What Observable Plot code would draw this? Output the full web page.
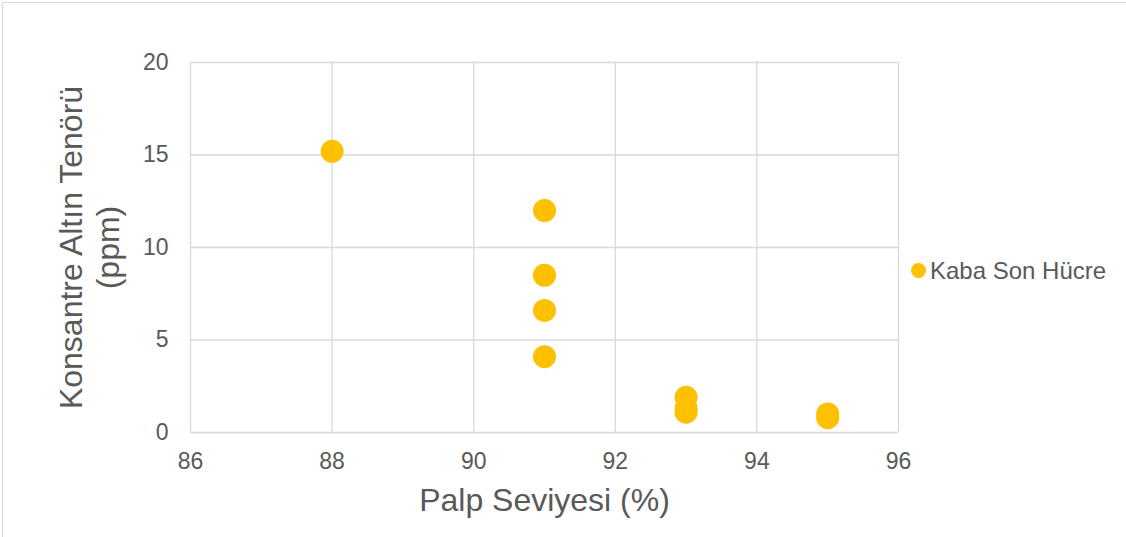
<!DOCTYPE html>
<html>
<head>
<meta charset="utf-8">
<script src="https://cdn.jsdelivr.net/npm/d3@7"></script>
<script src="https://cdn.jsdelivr.net/npm/@observablehq/plot@0.6"></script>
<style>
  html, body { margin: 0; padding: 0; background: #fff; }
  #wrap { position: relative; width: 1126px; height: 537px; font-family: "Liberation Sans", Arial, sans-serif; overflow: hidden; }
  #frame { position: absolute; left: 2px; top: 2px; width: 1130px; height: 540px; border-left: 1px solid #d9d9d9; border-top: 1px solid #d9d9d9; box-sizing: border-box; pointer-events: none; }
  #legend { position: absolute; left: 911px; top: 257px; height: 27px; display: flex; align-items: center; font-size: 24px; line-height: 27px; color: #595959; }
  #legend .sw { width: 15px; height: 15px; border-radius: 50%; background: #FFC000; margin-right: 4px; }
  svg { display: block; }
</style>
</head>
<body>
<div id="wrap">
  <div id="chart"></div>
  <div id="frame"></div>
  <div id="legend"><span class="sw"></span><span id="legendText"></span></div>
</div>
<script>
const seriesName = "Kaba Son Hücre";
const palpLevels = [88, 91, 91, 91, 91, 93, 93, 93, 95, 95];
const goldGrades = [15.2, 12.0, 8.5, 6.6, 4.1, 1.9, 1.3, 1.1, 1.0, 0.8];
const xTicks = [86, 88, 90, 92, 94, 96];
const yTicks = [0, 5, 10, 15, 20];
const xLabel = "Palp Seviyesi (%)";
const yLabel = "Konsantre Altın Tenörü\n(ppm)";

const data = palpLevels.map((x, i) => ({x, y: goldGrades[i]}));
const textColor = "#595959";

const chart = Plot.plot({
  width: 1126,
  height: 537,
  marginLeft: 190,
  marginRight: 228,
  marginTop: 62,
  marginBottom: 105,
  style: {fontFamily: '"Liberation Sans", Arial, sans-serif', fontSize: "23px", color: textColor, background: "#fff"},
  x: {domain: [86, 96]},
  y: {domain: [0, 20]},
  marks: [
    Plot.gridX(xTicks, {stroke: "#d9d9d9", strokeOpacity: 1, strokeWidth: 1.3}),
    Plot.gridY(yTicks, {stroke: "#d9d9d9", strokeOpacity: 1, strokeWidth: 1.3}),
    Plot.axisX({ticks: xTicks, tickSize: 0, tickPadding: 20, label: null, fill: textColor, fontSize: 23}),
    Plot.axisY({ticks: yTicks, tickSize: 0, tickPadding: 22, label: null, fill: textColor, fontSize: 23}),
    Plot.dot(data, {x: "x", y: "y", r: 11.5, fill: "#FFC000", stroke: null}),
    Plot.text([xLabel], {frameAnchor: "bottom", dy: 68, lineAnchor: "middle", fontSize: 32, fill: textColor}),
    Plot.text([yLabel], {frameAnchor: "left", dx: -102, rotate: -90, textAnchor: "middle", lineAnchor: "middle", lineHeight: 1.15, fontSize: 32, fill: textColor})
  ]
});
document.getElementById("chart").appendChild(chart);
document.getElementById("legendText").textContent = seriesName;
</script>
</body>
</html>
